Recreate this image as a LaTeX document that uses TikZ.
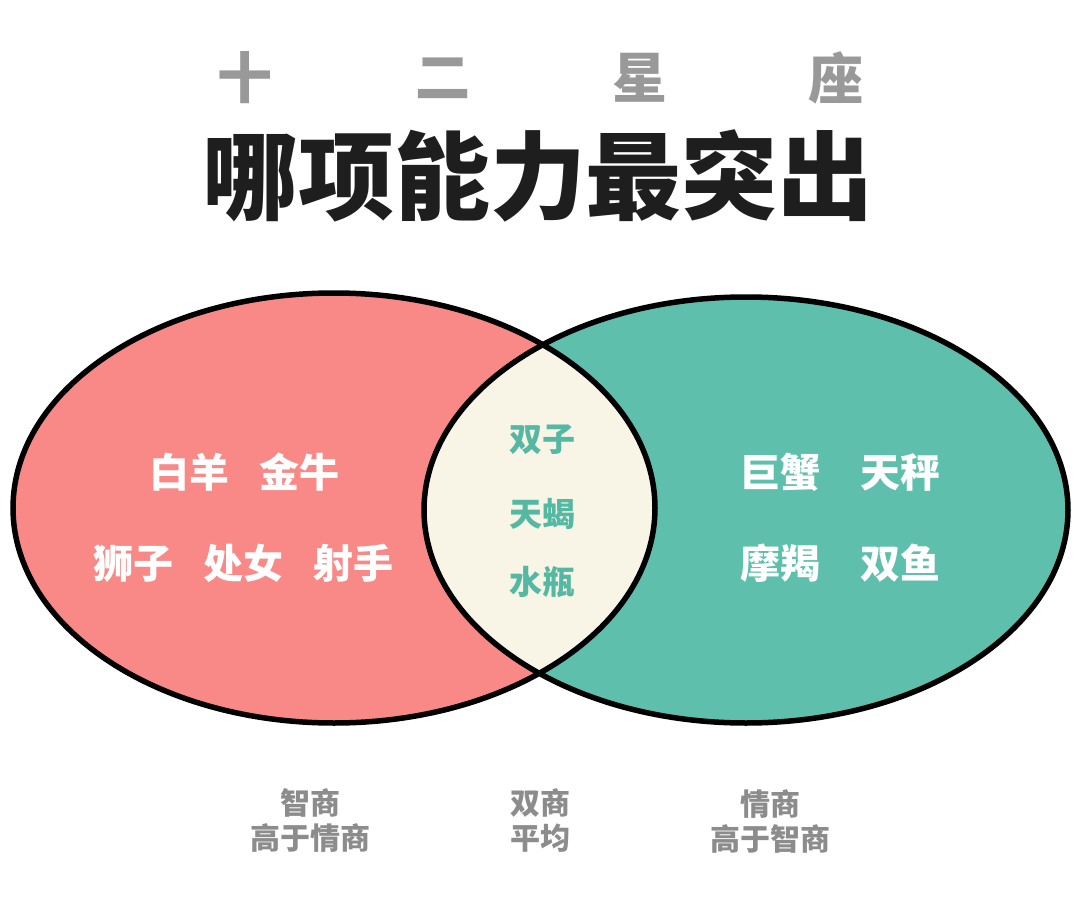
\documentclass[tikz,border=0pt]{standalone}
\usepackage{fontspec}
\newfontfamily\cjk{Noto Sans CJK SC}
\definecolor{pinkfill}{HTML}{F98986}
\definecolor{tealfill}{HTML}{5EBFAC}
\definecolor{creamfill}{HTML}{F8F5E7}
\definecolor{tealtext}{HTML}{55B8A3}
\definecolor{graytext}{HTML}{8C8C8C}
\definecolor{titlegray}{HTML}{999999}
\definecolor{titleblack}{HTML}{1E1E1E}
\tikzset{
  sub/.style={font=\cjk\bfseries\fontsize{55}{55}\selectfont, text=titlegray, inner sep=0pt},
  headline/.style={font=\cjk\bfseries\fontsize{96}{96}\selectfont, text=titleblack, inner sep=0pt},
  sign/.style={font=\cjk\bfseries\fontsize{40}{40}\selectfont, text=white, inner sep=0pt},
  midsign/.style={font=\cjk\bfseries\fontsize{33}{33}\selectfont, text=tealtext, inner sep=0pt},
  caption/.style={font=\cjk\bfseries\fontsize{30}{35}\selectfont, text=graytext, align=center, inner sep=0pt},
  ring/.style={draw=black, line width=5.5pt}
}
\begin{document}
\begin{tikzpicture}[x=1pt,y=-1pt]
\useasboundingbox[fill=white] (0,0) rectangle (1080,899);
% fills
\fill[pinkfill] (334,508) ellipse [x radius=321, y radius=215];
\fill[tealfill] (746,510) ellipse [x radius=322, y radius=213];
\begin{scope}
  \clip (334,508) ellipse [x radius=321, y radius=215];
  \fill[creamfill] (746,510) ellipse [x radius=322, y radius=213];
\end{scope}
\draw[ring] (334,508) ellipse [x radius=321, y radius=215];
\draw[ring] (746,510) ellipse [x radius=322, y radius=213];
% titles
\node[sub] (t1) at (245,78) {十};
\node[sub] (t2) at (443,78) {二};
\node[sub] (t3) at (640,78) {星};
\node[sub] (t4) at (836,78) {座};
\node[headline] (head) at (538,176) {哪项能力最突出};
% signs
\node[sign] (l1) at (244,472) {白羊\hspace{30pt}金牛};
\node[sign] (l2) at (243,563) {狮子\hspace{30pt}处女\hspace{30pt}射手};
\node[sign] (r1) at (840,472) {巨蟹\hspace{40pt}天秤};
\node[sign] (r2) at (840,563) {摩羯\hspace{40pt}双鱼};
\node[midsign] (m1) at (542,440) {双子};
\node[midsign] (m2) at (542,514) {天蝎};
\node[midsign] (m3) at (542,582) {水瓶};
% captions
\node[caption] (c1) at (310,821) {智商\\高于情商};
\node[caption] (c2) at (540,821) {双商\\平均};
\node[caption] (c3) at (770,821) {情商\\高于智商};
\end{tikzpicture}
\end{document}
